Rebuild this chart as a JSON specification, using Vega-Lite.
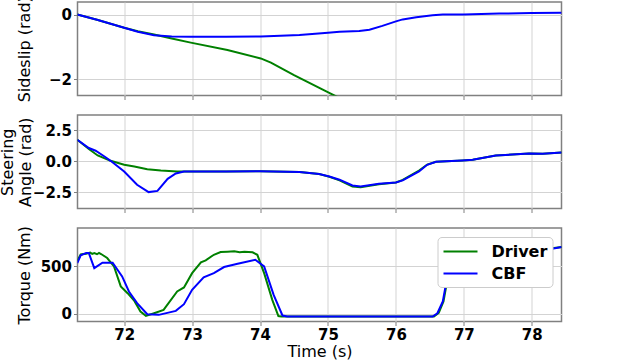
{
  "$schema": "https://vega.github.io/schema/vega-lite/v6.json",
  "padding": {"left": -1.5, "top": -6, "right": 5, "bottom": 5},
  "spacing": 19,
  "bounds": "flush",
  "config": {
    "font": "DejaVu Sans",
    "view": {"stroke": "#808080", "strokeWidth": 1.5},
    "axis": {
      "labelFont": "DejaVu Sans", "labelFontSize": 15, "labelFontWeight": "bold", "labelColor": "black",
      "titleFont": "DejaVu Sans", "titleFontSize": 16, "titleFontWeight": "normal", "titleColor": "black",
      "domain": false, "tickColor": "#808080", "tickSize": 4, "tickWidth": 1,
      "gridColor": "#d3d3d3", "gridWidth": 1, "labelPadding": 2
    }
  },
  "datasets": {
    "sideslip": [
      {"t":71.31,"s":"Driver","v":0.0},{"t":71.6,"s":"Driver","v":-0.16},{"t":72.0,"s":"Driver","v":-0.41},{"t":72.2,"s":"Driver","v":-0.52},{"t":72.44,"s":"Driver","v":-0.62},{"t":72.7,"s":"Driver","v":-0.74},{"t":72.98,"s":"Driver","v":-0.87},{"t":73.52,"s":"Driver","v":-1.10},{"t":74.01,"s":"Driver","v":-1.36},{"t":74.16,"s":"Driver","v":-1.49},{"t":74.5,"s":"Driver","v":-1.88},{"t":75.04,"s":"Driver","v":-2.45},{"t":75.2,"s":"Driver","v":-2.62},
      {"t":71.31,"s":"CBF","v":0.0},{"t":71.6,"s":"CBF","v":-0.16},{"t":72.0,"s":"CBF","v":-0.41},{"t":72.2,"s":"CBF","v":-0.53},{"t":72.44,"s":"CBF","v":-0.64},{"t":72.7,"s":"CBF","v":-0.68},{"t":72.98,"s":"CBF","v":-0.69},{"t":73.5,"s":"CBF","v":-0.69},{"t":74.01,"s":"CBF","v":-0.68},{"t":74.3,"s":"CBF","v":-0.66},{"t":74.58,"s":"CBF","v":-0.63},{"t":75.0,"s":"CBF","v":-0.56},{"t":75.17,"s":"CBF","v":-0.53},{"t":75.46,"s":"CBF","v":-0.51},{"t":75.61,"s":"CBF","v":-0.47},{"t":75.8,"s":"CBF","v":-0.35},{"t":76.0,"s":"CBF","v":-0.21},{"t":76.1,"s":"CBF","v":-0.15},{"t":76.3,"s":"CBF","v":-0.08},{"t":76.54,"s":"CBF","v":-0.02},{"t":76.69,"s":"CBF","v":0.0},{"t":77.0,"s":"CBF","v":0.0},{"t":77.52,"s":"CBF","v":0.03},{"t":78.0,"s":"CBF","v":0.05},{"t":78.44,"s":"CBF","v":0.06}
    ],
    "steering": [
      {"t":71.31,"s":"Driver","v":1.72},{"t":71.48,"s":"Driver","v":0.97},{"t":71.61,"s":"Driver","v":0.45},{"t":71.8,"s":"Driver","v":0.02},{"t":72.0,"s":"Driver","v":-0.30},{"t":72.15,"s":"Driver","v":-0.43},{"t":72.34,"s":"Driver","v":-0.65},{"t":72.54,"s":"Driver","v":-0.76},{"t":72.78,"s":"Driver","v":-0.84},{"t":73.0,"s":"Driver","v":-0.84},{"t":73.5,"s":"Driver","v":-0.84},{"t":74.0,"s":"Driver","v":-0.82},{"t":74.58,"s":"Driver","v":-0.89},{"t":74.87,"s":"Driver","v":-1.05},{"t":75.02,"s":"Driver","v":-1.26},{"t":75.17,"s":"Driver","v":-1.55},{"t":75.36,"s":"Driver","v":-2.05},{"t":75.48,"s":"Driver","v":-2.1},{"t":75.75,"s":"Driver","v":-1.86},{"t":76.0,"s":"Driver","v":-1.73},{"t":76.1,"s":"Driver","v":-1.52},{"t":76.34,"s":"Driver","v":-0.76},{"t":76.46,"s":"Driver","v":-0.28},{"t":76.59,"s":"Driver","v":-0.06},{"t":76.98,"s":"Driver","v":0.05},{"t":77.13,"s":"Driver","v":0.1},{"t":77.47,"s":"Driver","v":0.45},{"t":77.96,"s":"Driver","v":0.61},{"t":78.16,"s":"Driver","v":0.59},{"t":78.44,"s":"Driver","v":0.69},
      {"t":71.31,"s":"CBF","v":1.72},{"t":71.48,"s":"CBF","v":1.05},{"t":71.58,"s":"CBF","v":0.83},{"t":71.71,"s":"CBF","v":0.37},{"t":71.8,"s":"CBF","v":0.02},{"t":72.0,"s":"CBF","v":-0.84},{"t":72.19,"s":"CBF","v":-1.91},{"t":72.36,"s":"CBF","v":-2.5},{"t":72.49,"s":"CBF","v":-2.4},{"t":72.64,"s":"CBF","v":-1.43},{"t":72.76,"s":"CBF","v":-1.0},{"t":72.88,"s":"CBF","v":-0.84},{"t":73.5,"s":"CBF","v":-0.84},{"t":74.0,"s":"CBF","v":-0.82},{"t":74.58,"s":"CBF","v":-0.89},{"t":74.87,"s":"CBF","v":-1.05},{"t":75.02,"s":"CBF","v":-1.24},{"t":75.17,"s":"CBF","v":-1.5},{"t":75.36,"s":"CBF","v":-1.97},{"t":75.48,"s":"CBF","v":-2.05},{"t":75.75,"s":"CBF","v":-1.83},{"t":76.0,"s":"CBF","v":-1.72},{"t":76.1,"s":"CBF","v":-1.56},{"t":76.34,"s":"CBF","v":-0.84},{"t":76.46,"s":"CBF","v":-0.30},{"t":76.59,"s":"CBF","v":-0.06},{"t":76.98,"s":"CBF","v":0.05},{"t":77.13,"s":"CBF","v":0.1},{"t":77.47,"s":"CBF","v":0.45},{"t":77.96,"s":"CBF","v":0.61},{"t":78.16,"s":"CBF","v":0.59},{"t":78.44,"s":"CBF","v":0.69}
    ],
    "torque": [
      {"t":71.31,"s":"Driver","v":560},{"t":71.36,"s":"Driver","v":626},{"t":71.4,"s":"Driver","v":630},{"t":71.44,"s":"Driver","v":633},{"t":71.5,"s":"Driver","v":645},{"t":71.53,"s":"Driver","v":632},{"t":71.56,"s":"Driver","v":640},{"t":71.6,"s":"Driver","v":628},{"t":71.63,"s":"Driver","v":642},{"t":71.66,"s":"Driver","v":630},{"t":71.75,"s":"Driver","v":588},{"t":71.85,"s":"Driver","v":500},{"t":71.95,"s":"Driver","v":289},{"t":72.05,"s":"Driver","v":218},{"t":72.15,"s":"Driver","v":137},{"t":72.24,"s":"Driver","v":25},{"t":72.32,"s":"Driver","v":-21},{"t":72.44,"s":"Driver","v":7},{"t":72.58,"s":"Driver","v":42},{"t":72.78,"s":"Driver","v":236},{"t":72.88,"s":"Driver","v":278},{"t":73.0,"s":"Driver","v":429},{"t":73.13,"s":"Driver","v":542},{"t":73.2,"s":"Driver","v":563},{"t":73.32,"s":"Driver","v":622},{"t":73.42,"s":"Driver","v":651},{"t":73.52,"s":"Driver","v":655},{"t":73.62,"s":"Driver","v":658},{"t":73.7,"s":"Driver","v":650},{"t":73.77,"s":"Driver","v":655},{"t":73.89,"s":"Driver","v":648},{"t":73.96,"s":"Driver","v":622},{"t":74.06,"s":"Driver","v":429},{"t":74.18,"s":"Driver","v":148},{"t":74.27,"s":"Driver","v":-22},{"t":74.31,"s":"Driver","v":-27},{"t":76.56,"s":"Driver","v":-27},{"t":76.63,"s":"Driver","v":10},{"t":76.7,"s":"Driver","v":131},{"t":76.74,"s":"Driver","v":289},{"t":76.8,"s":"Driver","v":500},{"t":76.9,"s":"Driver","v":630},{"t":77.0,"s":"Driver","v":675},{"t":77.5,"s":"Driver","v":692},{"t":78.0,"s":"Driver","v":698},{"t":78.3,"s":"Driver","v":690},{"t":78.44,"s":"Driver","v":705},
      {"t":71.31,"s":"CBF","v":535},{"t":71.36,"s":"CBF","v":616},{"t":71.44,"s":"CBF","v":640},{"t":71.48,"s":"CBF","v":640},{"t":71.56,"s":"CBF","v":482},{"t":71.68,"s":"CBF","v":538},{"t":71.83,"s":"CBF","v":538},{"t":71.97,"s":"CBF","v":394},{"t":72.07,"s":"CBF","v":236},{"t":72.19,"s":"CBF","v":113},{"t":72.34,"s":"CBF","v":-3},{"t":72.51,"s":"CBF","v":-10},{"t":72.76,"s":"CBF","v":32},{"t":72.88,"s":"CBF","v":102},{"t":73.0,"s":"CBF","v":253},{"t":73.17,"s":"CBF","v":384},{"t":73.32,"s":"CBF","v":429},{"t":73.47,"s":"CBF","v":493},{"t":73.67,"s":"CBF","v":527},{"t":73.93,"s":"CBF","v":570},{"t":74.06,"s":"CBF","v":500},{"t":74.2,"s":"CBF","v":200},{"t":74.33,"s":"CBF","v":-17},{"t":74.4,"s":"CBF","v":-27},{"t":76.54,"s":"CBF","v":-27},{"t":76.61,"s":"CBF","v":7},{"t":76.69,"s":"CBF","v":131},{"t":76.73,"s":"CBF","v":289},{"t":76.8,"s":"CBF","v":480},{"t":76.9,"s":"CBF","v":620},{"t":77.0,"s":"CBF","v":670},{"t":77.5,"s":"CBF","v":690},{"t":78.0,"s":"CBF","v":695},{"t":78.3,"s":"CBF","v":686},{"t":78.44,"s":"CBF","v":703}
    ]
  },
  "vconcat": [
    {
      "width": 484, "height": 93.5,
      "data": {"name": "sideslip"},
      "encoding": {
        "x": {"field": "t", "type": "quantitative", "scale": {"domain": [71.313, 78.437], "nice": false, "zero": false},
              "axis": {"values": [72,73,74,75,76,77,78], "labels": false, "title": null}},
        "y": {"field": "v", "type": "quantitative", "scale": {"domain": [-2.51, 0.39], "nice": false, "zero": false},
              "axis": {"values": [-2, 0], "format": "d", "labelFontWeight": "bold", "title": "Sideslip (rad)", "titleX": -45}},
        "color": {"field": "s", "type": "nominal", "scale": {"domain": ["Driver", "CBF"], "range": ["green", "blue"]}, "legend": null}
      },
      "layer": [
        {"transform": [{"filter": "datum.s == 'Driver'"}], "mark": {"type": "line", "strokeWidth": 2, "clip": true}},
        {"transform": [{"filter": "datum.s == 'CBF'"}], "mark": {"type": "line", "strokeWidth": 2, "clip": true}}
      ]
    },
    {
      "width": 484, "height": 93.5,
      "data": {"name": "steering"},
      "encoding": {
        "x": {"field": "t", "type": "quantitative", "scale": {"domain": [71.313, 78.437], "nice": false, "zero": false},
              "axis": {"values": [72,73,74,75,76,77,78], "labels": false, "title": null}},
        "y": {"field": "v", "type": "quantitative", "scale": {"domain": [-3.82, 3.71], "nice": false, "zero": false},
              "axis": {"values": [-2.5, 0, 2.5], "format": ".1f", "labelFontWeight": "bold", "title": ["Steering", "Angle (rad)"], "titleX": -62, "titleLineHeight": 18}},
        "color": {"field": "s", "type": "nominal", "scale": {"domain": ["Driver", "CBF"], "range": ["green", "blue"]}, "legend": null}
      },
      "layer": [
        {"transform": [{"filter": "datum.s == 'Driver'"}], "mark": {"type": "line", "strokeWidth": 2, "clip": true}},
        {"transform": [{"filter": "datum.s == 'CBF'"}], "mark": {"type": "line", "strokeWidth": 2, "clip": true}}
      ]
    },
    {
      "width": 484, "height": 93.5,
      "data": {"name": "torque"},
      "encoding": {
        "x": {"field": "t", "type": "quantitative", "scale": {"domain": [71.313, 78.437], "nice": false, "zero": false},
              "axis": {"values": [72,73,74,75,76,77,78], "format": "d", "labelFontWeight": "bold", "title": "Time (s)", "titlePadding": 1}},
        "y": {"field": "v", "type": "quantitative", "scale": {"domain": [-80, 904], "nice": false, "zero": false},
              "axis": {"values": [0, 500], "format": "d", "labelFontWeight": "bold", "title": "Torque (Nm)", "titleX": -45}},
        "color": {"field": "s", "type": "nominal", "scale": {"domain": ["Driver", "CBF"], "range": ["green", "blue"]},
                  "legend": {"orient": "top-right", "offset": 9, "title": null, "symbolType": "M-1,0H3", "symbolSize": 289,
                             "symbolStrokeWidth": 2, "labelFont": "DejaVu Sans", "labelFontSize": 16, "labelFontWeight": "bold",
                             "labelColor": "black", "labelOffset": 30, "padding": 5, "rowPadding": 4,
                             "fillColor": "white", "strokeColor": "#cccccc", "cornerRadius": 4}}
      },
      "layer": [
        {"transform": [{"filter": "datum.s == 'Driver'"}], "mark": {"type": "line", "strokeWidth": 2, "clip": true}},
        {"transform": [{"filter": "datum.s == 'CBF'"}], "mark": {"type": "line", "strokeWidth": 2, "clip": true}}
      ]
    }
  ],
  "resolve": {"scale": {"x": "independent", "y": "independent", "color": "independent"}, "legend": {"color": "independent"}}
}
